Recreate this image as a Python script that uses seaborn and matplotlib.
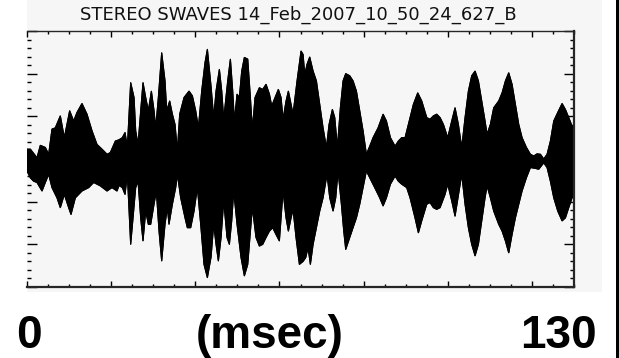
import numpy as np
import matplotlib
matplotlib.use("Agg")
import matplotlib.pyplot as plt
from matplotlib.patches import Rectangle
from matplotlib.ticker import MultipleLocator
import seaborn as sns

# upper envelope of the waveform (time in msec, amplitude in arbitrary units)
t_upper = [0.0, 0.79, 2.38, 3.17, 4.36, 5.15, 5.94, 6.73, 7.92, 8.87, 10.14, 11.09, 11.88,
           13.07, 14.26, 15.45, 16.64, 17.83, 19.02, 19.81, 21.0, 21.87, 22.66, 23.30, 23.85,
           24.64, 25.44, 25.83, 26.39, 27.02, 27.57, 28.21, 28.84, 29.56, 30.19, 30.59, 31.22,
           32.01, 32.80, 33.20, 33.91, 34.55, 35.18, 35.74, 36.29, 37.32, 38.51, 39.30, 40.09,
           40.73, 41.52, 42.31, 42.87, 43.74, 44.37, 44.93, 45.72, 46.28, 46.75, 47.70, 48.34,
           48.89, 49.29, 49.92, 50.47, 51.03, 51.66, 52.46, 53.09, 53.56, 54.20, 55.23, 56.02,
           56.81, 57.61, 58.16, 58.95, 59.74, 60.38, 60.85, 61.57, 62.12, 62.76, 63.23, 64.18,
           65.13, 65.61, 66.01, 66.56, 67.19, 67.99, 68.78, 69.57, 70.36, 71.16, 71.79, 72.58,
           73.14, 73.77, 74.48, 75.12, 75.75, 76.70, 77.49, 78.29, 79.08, 79.87, 80.66, 81.46,
           82.25, 83.44, 84.63, 85.42, 86.37, 87.47, 88.26, 89.05, 89.85, 90.64, 91.83, 92.86,
           93.81, 95.0, 95.79, 96.58, 97.37, 98.17, 98.96, 99.99, 100.94, 101.73, 102.52,
           103.32, 104.11, 104.90, 105.69, 106.49, 107.28, 108.07, 108.86, 109.34, 110.13,
           110.92, 112.11, 112.91, 113.70, 114.49, 115.28, 116.07, 116.87, 117.66, 118.69,
           119.64, 120.43, 121.22, 122.02, 122.81, 123.60, 124.39, 125.19, 126.14, 127.17,
           127.96, 128.75, 129.54, 130.0]
upper = [0.23, 0.23, 0.03, 0.32, 0.27, 0.11, 0.70, 0.73, 1.01, 0.50, 1.13, 0.89, 1.09,
         1.30, 1.05, 0.66, 0.34, 0.23, 0.11, 0.15, 0.42, 0.45, 0.50, 0.62, 0.27,
         1.79, 1.44, 0.66, 0.34, 1.13, 1.79, 1.44, 1.13, 1.59, 1.13, 0.73, 1.44,
         2.49, 1.83, 1.13, 1.36, 1.05, 0.81, 0.19, 1.05, 1.44, 1.59, 1.48, 1.13,
         0.73, 1.59, 2.26, 2.57, 1.70, 0.97, 1.59, 2.10, 1.59, 0.93, 1.83, 2.34,
         1.59, 0.89, 1.52, 1.44, 2.06, 2.38, 2.34, 1.44, 0.70, 1.44, 1.67, 1.63,
         1.75, 1.52, 1.24, 1.44, 1.63, 1.44, 0.93, 1.36, 1.59, 1.28, 1.05, 1.83,
         2.53, 2.45, 1.98, 2.22, 2.39, 2.06, 1.83, 1.28, 0.73, 0.27, 0.81, 1.16,
         0.97, 0.27, 1.20, 1.83, 2.00, 1.95, 1.83, 1.59, 1.13, 0.66, 0.11, 0.30,
         0.50, 0.73, 1.05, 0.89, 0.50, 0.30, 0.42, 0.50, 0.50, 0.81, 1.28, 1.55,
         1.36, 0.97, 0.93, 1.01, 1.05, 0.97, 0.81, 0.50, 0.89, 1.20, 0.81,
         0.27, 0.97, 1.59, 1.95, 2.06, 1.83, 1.36, 0.89, 0.58, 0.81,
         1.20, 1.36, 1.55, 1.83, 2.02, 1.75, 1.28, 0.81, 0.50, 0.27,
         0.11, 0.07, 0.12, 0.11, 0.0, 0.11, 0.42, 0.89, 1.09, 1.30,
         1.16, 0.97, 0.77, 0.70]

# lower envelope
t_lower = [0.0, 0.79, 1.58, 2.38, 3.57, 4.36, 5.15, 5.94, 7.13, 7.92, 8.87, 9.90, 10.46,
           11.49, 13.07, 14.66, 15.85, 17.43, 19.02, 20.20, 21.39, 21.87, 22.66, 23.30, 23.85,
           24.64, 25.20, 25.83, 26.39, 27.02, 27.57, 28.21, 28.84, 29.40, 30.19, 30.74, 31.38,
           32.01, 32.80, 33.36, 33.75, 34.55, 35.34, 35.74, 36.53, 37.56, 38.11, 38.90, 39.70,
           40.49, 41.28, 42.07, 42.87, 43.74, 44.37, 44.93, 45.48, 46.12, 46.75, 47.54, 48.10,
           48.65, 49.13, 49.92, 50.87, 51.66, 52.46, 53.09, 53.56, 54.43, 55.23, 56.02, 56.81,
           57.61, 58.40, 59.19, 59.98, 60.38, 60.85, 61.57, 62.12, 62.76, 63.23, 63.94, 64.74,
           65.61, 66.24, 66.80, 67.35, 67.99, 68.78, 69.57, 70.36, 71.31, 71.95, 72.74, 73.37,
           73.93, 74.72, 75.28, 75.75, 76.70, 77.49, 78.29, 79.08, 79.87, 80.66, 81.46, 82.64,
           83.83, 84.63, 85.42, 86.37, 87.47, 88.26, 89.05, 90.24, 91.04, 92.22, 93.02, 93.81,
           95.0, 95.79, 96.58, 97.37, 98.17, 99.35, 99.99, 100.94, 101.73, 102.68, 103.32,
           104.11, 104.90, 105.69, 106.49, 107.28, 108.07, 108.86, 109.34, 110.13, 110.92,
           112.11, 112.91, 113.70, 114.49, 115.28, 116.07, 116.87, 117.66, 118.69, 119.64,
           120.83, 121.62, 122.81, 123.60, 124.39, 125.19, 126.14, 127.17, 127.96, 128.75,
           129.54, 130.0]
lower = [-0.28, -0.44, -0.52, -0.55, -0.75, -0.55, -0.36, -0.67, -0.91, -1.14, -0.83, -1.14, -1.30,
         -0.91, -0.75, -0.67, -0.55, -0.63, -0.75, -0.67, -0.75, -0.62, -0.67, -0.83, -0.36,
         -2.00, -1.38, -0.67, -0.52, -1.38, -1.92, -1.22, -1.53, -1.53, -1.06, -0.75, -1.69,
         -2.39, -1.53, -1.14, -1.53, -1.06, -0.67, -0.36, -0.91, -1.38, -1.61, -1.61, -1.22,
         -0.67, -1.53, -2.47, -2.78, -2.30, -1.53, -2.00, -2.39, -1.84, -0.98, -1.84, -2.00,
         -1.45, -0.75, -1.53, -2.31, -2.74, -2.47, -1.69, -1.14, -1.84, -2.04, -2.00, -1.84,
         -1.69, -1.61, -1.77, -1.92, -1.38, -0.75, -1.38, -1.69, -1.38, -1.18, -1.84, -2.47,
         -2.40, -2.31, -2.08, -2.47, -2.00, -1.61, -1.22, -0.91, -0.36, -0.91, -1.22, -0.91,
         -0.28, -1.06, -1.69, -2.12, -1.84, -1.61, -1.38, -1.06, -0.67, -0.28, -0.44, -0.67,
         -0.91, -1.10, -0.91, -0.59, -0.40, -0.52, -0.59, -0.67, -0.91, -1.38, -1.73, -1.45,
         -1.06, -1.02, -1.14, -1.18, -1.14, -0.83, -0.59, -0.98, -1.34, -0.75, -0.36,
         -1.06, -1.61, -2.00, -2.27, -2.00, -1.45, -0.91, -0.63, -0.91, -1.22,
         -1.53, -1.69, -1.92, -2.20, -1.77, -1.38, -1.06, -0.75, -0.44, -0.20,
         -0.22, -0.24, -0.09, -0.20, -0.52, -0.91, -1.22, -1.45, -1.38, -1.14,
         -0.91, -0.83]

title = "STEREO SWAVES 14_Feb_2007_10_50_24_627_B"
x_labels = ["0", "(msec)", "130"]

sns.set_style("ticks")
plt.rcParams["font.family"] = ["DejaVu Sans"]

W, H = 619, 358
fig = plt.figure(figsize=(W / 100, H / 100), dpi=100)
fig.patch.set_facecolor("white")

# light grey plot window and the black strip on the right edge (behind the axes)
fig.patches.append(Rectangle((27 / W, 1 - 292 / H), (602 - 27) / W, 292 / H,
                             transform=fig.transFigure, facecolor="#f6f6f6",
                             edgecolor="none", zorder=-10))
fig.patches.append(Rectangle((615.5 / W, 0), 3.5 / W, 1, transform=fig.transFigure,
                             facecolor="black", edgecolor="none", zorder=-10))

ax = fig.add_axes([27 / W, 1 - 287 / H, (574 - 27) / W, (287 - 31) / H])
ax.set_facecolor("#f6f6f6")

ax.fill(np.r_[t_upper, t_lower[::-1]], np.r_[upper, lower[::-1]],
        color="black", lw=0.8, zorder=2)
sns.lineplot(x=t_upper, y=upper, color="black", lw=0.8, ax=ax, sort=False)
sns.lineplot(x=t_lower, y=lower, color="black", lw=0.8, ax=ax, sort=False)

ax.set_xlim(0, 130)
ax.set_ylim(-3, 3)
ax.xaxis.set_major_locator(MultipleLocator(20))
ax.xaxis.set_minor_locator(MultipleLocator(5))
ax.yaxis.set_major_locator(MultipleLocator(1))
ax.yaxis.set_minor_locator(MultipleLocator(0.2))
ax.tick_params(axis="x", which="major", direction="in", length=4.5, width=1,
               top=True, bottom=True, labelbottom=False, color="black")
ax.tick_params(axis="x", which="minor", direction="in", length=2.3, width=1,
               top=True, bottom=True, color="black")
ax.tick_params(axis="y", which="major", direction="in", length=7, width=1,
               left=True, right=True, labelleft=False, color="black")
ax.tick_params(axis="y", which="minor", direction="in", length=3.2, width=1,
               left=True, right=True, color="black")
ax.set_xlabel("")
ax.set_ylabel("")
ax.spines["left"].set_visible(False)
ax.spines["top"].set_linewidth(1.0)
ax.spines["bottom"].set_linewidth(1.6)
ax.spines["right"].set_linewidth(1.6)

fig.text(298 / W, 1 - 20 / H, title, ha="center", va="baseline",
         fontsize=13, color="#111111")

bold = dict(fontsize=33, fontweight="bold", family=["Liberation Sans", "DejaVu Sans"],
            va="baseline", color="black")
fig.text(29 / W, 1 - 348 / H, x_labels[0], ha="center", **bold)
fig.text(270 / W, 1 - 348 / H, x_labels[1], ha="center", **bold)
fig.text(597 / W, 1 - 348 / H, x_labels[2], ha="right", **bold)

fig.savefig("out.png", dpi=100)
